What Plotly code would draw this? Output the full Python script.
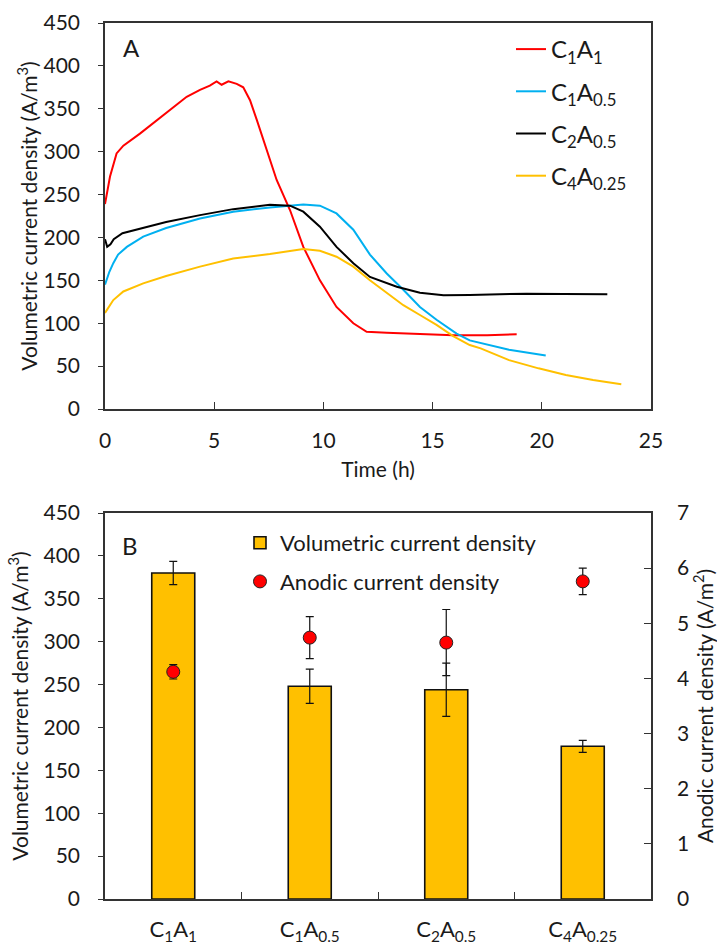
import plotly.graph_objects as go

# ---------------- Panel A data ----------------
t_c1a1 = [0, 0.23, 0.53, 0.84, 1.6, 2.82, 3.74, 4.35, 4.8, 5.11, 5.34, 5.65, 6.03, 6.33, 6.64, 6.95,
          7.4, 7.86, 8.47, 9.08, 9.84, 10.6, 11.37, 11.98, 12.9, 14.42, 15.94, 17.5, 18.85]
v_c1a1 = [239, 271, 298, 307, 321, 346, 364, 372, 377, 382, 378, 382, 379, 375, 360, 337,
          302, 267, 232, 189, 150, 119, 100, 90, 89, 87.5, 86, 86, 87]

t_c1a05 = [0, 0.1, 0.2, 0.38, 0.6, 1.0, 1.75, 2.8, 4.35, 5.87, 7.55, 9.08, 9.84, 10.6, 11.37,
           12.13, 12.9, 13.66, 14.42, 15.18, 16.1, 16.7, 17.2, 18.5, 20.18]
v_c1a05 = [145, 153, 160, 170, 180, 189, 201, 211, 222, 230, 235, 238.5, 237, 228, 209,
           180, 158, 139, 119, 104, 88, 80, 77, 69, 62.5]

t_c2a05 = [0, 0.1, 0.25, 0.4, 0.8, 1.75, 2.8, 4.35, 5.87, 7.55, 8.47, 9.08, 9.84, 10.6, 11.37,
           12.13, 13.36, 14.42, 15.5, 16.7, 17.8, 19.3, 21.0, 23.0]
v_c2a05 = [198, 189, 192, 198, 205, 211, 218, 226, 233, 238, 237, 230, 212.5, 189, 170,
           154, 142.5, 135.5, 132.5, 133, 134, 134.5, 134, 133.7]

t_c4a025 = [0, 0.38, 0.84, 1.75, 2.8, 4.35, 5.87, 7.55, 9.08, 9.84, 10.6, 11.37, 12.13, 12.9,
            13.66, 14.42, 15.18, 15.94, 16.7, 17.2, 18.5, 19.85, 21.1, 22.35, 23.64]
v_c4a025 = [112, 127, 137, 146.5, 155, 166, 175.5, 180.6, 186.5, 184.5, 177.5, 166, 150, 135,
            121, 109.6, 98, 85, 74.6, 70.7, 57, 47.4, 39.6, 33.8, 28.8]

names_a = ["C<sub>1</sub>A<sub>1</sub>", "C<sub>1</sub>A<sub>0.5</sub>",
           "C<sub>2</sub>A<sub>0.5</sub>", "C<sub>4</sub>A<sub>0.25</sub>"]
colors_a = ["#FF0000", "#00B0F0", "#000000", "#FFC000"]

# ---------------- Panel B data ----------------
categories = ["C<sub>1</sub>A<sub>1</sub>", "C<sub>1</sub>A<sub>0.5</sub>",
              "C<sub>2</sub>A<sub>0.5</sub>", "C<sub>4</sub>A<sub>0.25</sub>"]
vol_density = [380, 248, 244, 178]
vol_err = [13.5, 20, 31, 7]
anodic_density = [4.12, 4.74, 4.65, 5.76]
anodic_err = [0.13, 0.38, 0.6, 0.24]

W, H = 717, 945
FONT = "Lato"
AX = "#333333"
TXT = "#1a1a1a"

fig = go.Figure()

series = [(t_c1a1, v_c1a1), (t_c1a05, v_c1a05), (t_c2a05, v_c2a05), (t_c4a025, v_c4a025)]
for i, ((t, v), n, c) in enumerate(zip(series, names_a, colors_a)):
    fig.add_trace(go.Scatter(x=t, y=v, mode="lines", name=n, line=dict(color=c, width=2),
                             xaxis="x", yaxis="y", legend="legend", legendgroup=f"g{i}"))

fig.add_trace(go.Bar(x=categories, y=vol_density, name="Volumetric current density",
                     marker=dict(color="#FFC000", line=dict(color="#111111", width=1.6)),
                     width=0.315,
                     error_y=dict(type="data", array=vol_err, color="#111111", thickness=1.2, width=4),
                     xaxis="x2", yaxis="y3", legend="legend2", legendgroup="b1"))
fig.add_trace(go.Scatter(x=categories, y=anodic_density, mode="markers", name="Anodic current density",
                         marker=dict(color="#FF0000", size=13, line=dict(color="#222222", width=1)),
                         error_y=dict(type="data", array=anodic_err, color="#111111", thickness=1.2, width=4),
                         xaxis="x2", yaxis="y4", legend="legend2", legendgroup="b2"))

xd = [105 / W, 651 / W]
top_dom = [1 - 409 / H, 1 - 23 / H]
bot_dom = [1 - 899 / H, 1 - 513 / H]
tickfont = dict(family=FONT, size=21, color=TXT)
titlefont = dict(family=FONT, size=21, color=TXT)

fig.update_layout(
    width=W, height=H, autosize=False,
    margin=dict(l=0, r=0, t=0, b=0, pad=0, autoexpand=False),
    paper_bgcolor="white", plot_bgcolor="white",
    font=dict(family=FONT, color=TXT),
    xaxis=dict(domain=xd, anchor="y", range=[0, 25], dtick=5, tick0=0, automargin=False,
               showline=True, linecolor=AX, linewidth=1.5, mirror=True,
               ticks="inside", ticklen=7, tickcolor=AX, tickwidth=1.2,
               showgrid=False, zeroline=False, tickfont=tickfont, ticklabelstandoff=12,
               title=dict(text="Time (h)", font=titlefont, standoff=11)),
    yaxis=dict(domain=top_dom, anchor="x", range=[0, 450], dtick=50, automargin=False,
               showline=True, linecolor=AX, linewidth=1.5, mirror=True,
               ticks="outside", ticklen=5, tickcolor=AX, tickwidth=1.2,
               showgrid=False, zeroline=False, tickfont=tickfont, ticklabelstandoff=14,
               title=dict(text="Volumetric current density (A/m<sup>3</sup>)", font=titlefont, standoff=0)),
    xaxis2=dict(domain=xd, anchor="y3", type="category", range=[-0.5, 3.5], automargin=False,
                showline=True, linecolor=AX, linewidth=1.5, mirror=True,
                ticks="inside", ticklen=7, tickcolor=AX, tickwidth=1.2, tickson="boundaries",
                showgrid=False, zeroline=False, tickfont=dict(family=FONT, size=22, color=TXT),
                ticklabelstandoff=10),
    yaxis3=dict(domain=bot_dom, anchor="x2", range=[0, 450], dtick=50, automargin=False,
                showline=True, linecolor=AX, linewidth=1.5,
                ticks="outside", ticklen=5, tickcolor=AX, tickwidth=1.2,
                showgrid=False, zeroline=False, tickfont=tickfont, ticklabelstandoff=14,
                title=dict(text="Volumetric current density (A/m<sup>3</sup>)", font=titlefont, standoff=9)),
    yaxis4=dict(domain=bot_dom, anchor="x2", overlaying="y3", side="right", range=[0, 7], dtick=1,
                automargin=False,
                showline=True, linecolor=AX, linewidth=1.5,
                ticks="inside", ticklen=7, tickcolor=AX, tickwidth=1.2,
                showgrid=False, zeroline=False, tickfont=tickfont, ticklabelstandoff=20,
                title=dict(text="Anodic current density (A/m<sup>2</sup>)", font=titlefont, standoff=8)),
    legend=dict(x=511 / W, y=1 - 27 / H, xanchor="left", yanchor="top",
                font=dict(family=FONT, size=24, color=TXT), bgcolor="rgba(0,0,0,0)",
                tracegroupgap=8, itemwidth=30),
    legend2=dict(x=240 / W, y=1 - 522 / H, xanchor="left", yanchor="top",
                 font=dict(family=FONT, size=22, color=TXT), bgcolor="rgba(0,0,0,0)",
                 tracegroupgap=7, itemwidth=30),
    bargap=0.5,
    annotations=[
        dict(text="A", x=131 / W, y=1 - 47 / H, xref="paper", yref="paper", showarrow=False,
             font=dict(family=FONT, size=24, color=TXT), xanchor="center", yanchor="middle"),
        dict(text="B", x=130 / W, y=1 - 545 / H, xref="paper", yref="paper", showarrow=False,
             font=dict(family=FONT, size=24, color=TXT), xanchor="center", yanchor="middle"),
    ],
)

fig.write_html("out.html", config={"displayModeBar": False},
               post_script="document.body.style.margin='0';document.body.style.overflow='hidden';")
